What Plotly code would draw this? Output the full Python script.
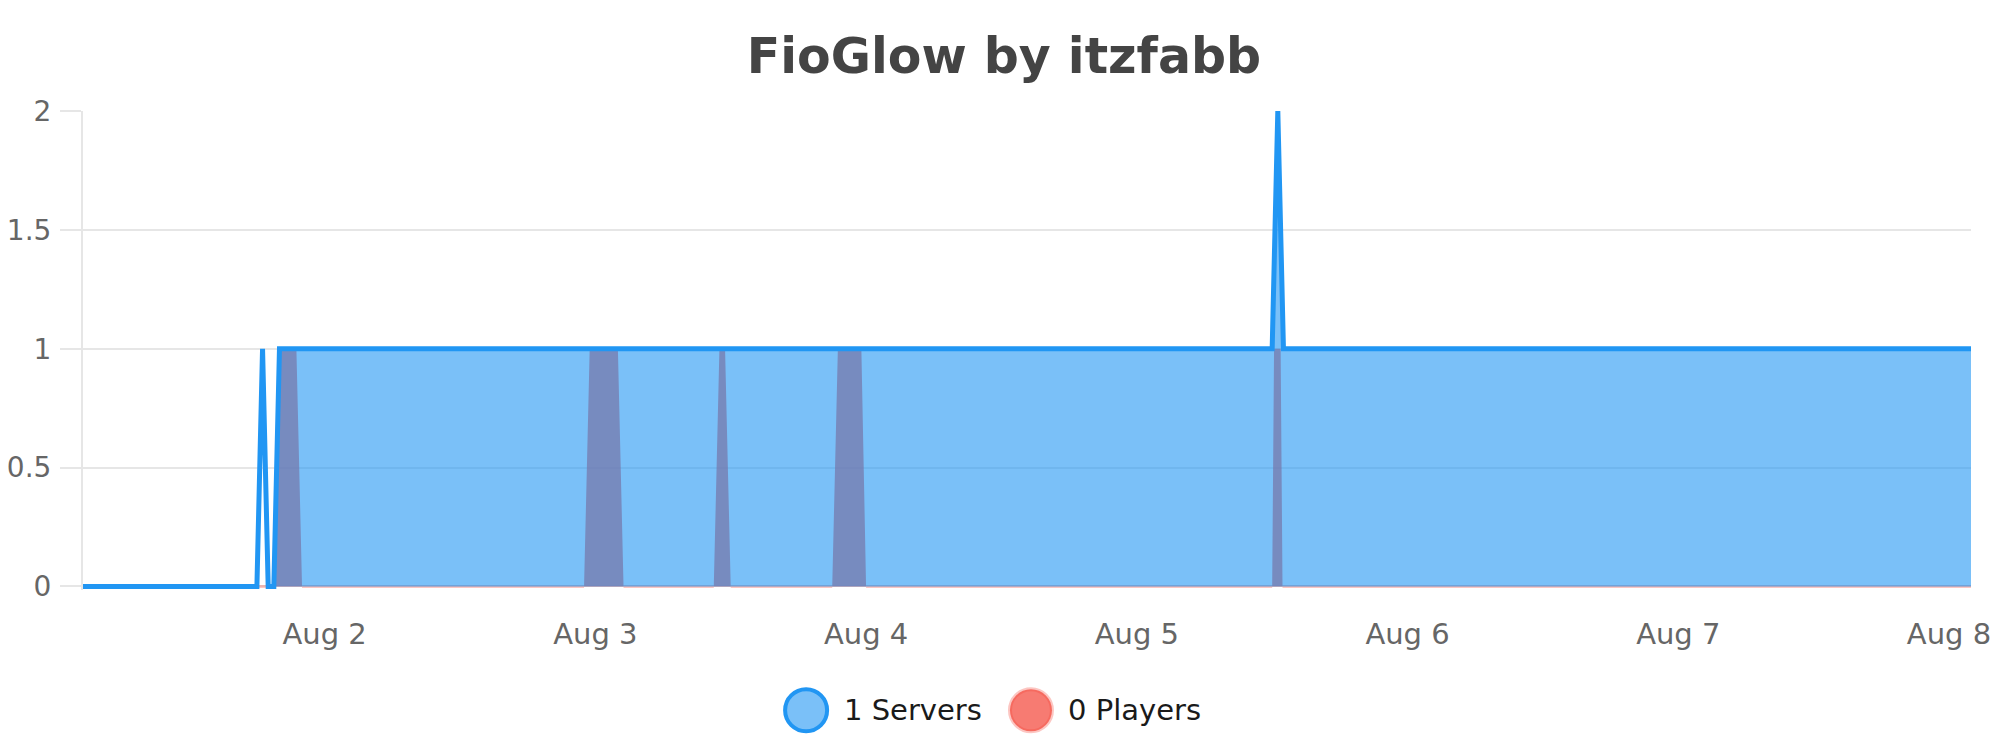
import plotly.graph_objects as go

## data
t_start = "2024-08-01 02:35"
t_end = "2024-08-08 01:57"

servers_time = [t_start, "2024-08-01 18:00", "2024-08-01 18:30", "2024-08-01 19:00",
                "2024-08-01 19:30", "2024-08-01 20:00", "2024-08-05 12:00",
                "2024-08-05 12:30", "2024-08-05 13:00", t_end]
servers = [0, 0, 1, 0, 0, 1, 1, 2, 1, 1]
servers_fill_from = 4  # area under the servers line only starts here

players_time = [t_start, "2024-08-01 19:30", "2024-08-01 20:00", "2024-08-01 22:00",
                "2024-08-02 23:00", "2024-08-03 01:00", "2024-08-03 02:30",
                "2024-08-03 10:30", "2024-08-03 11:15", "2024-08-03 12:00",
                "2024-08-03 21:00", "2024-08-03 22:30", "2024-08-04 00:00",
                "2024-08-05 12:00", "2024-08-05 12:30", "2024-08-05 12:55", t_end]
players = [0, 0, None, 0, 0, None, 0, 0, None, 0, 0, None, 0, 0, None, 0, 0]

# red area showing through where the players data has gaps
gap_time = ["2024-08-01 19:30", "2024-08-01 20:00", "2024-08-01 21:30", "2024-08-01 22:00",
            "2024-08-02 23:00", "2024-08-02 23:30", "2024-08-03 02:00", "2024-08-03 02:30",
            "2024-08-03 10:30", "2024-08-03 11:00", "2024-08-03 11:30", "2024-08-03 12:00",
            "2024-08-03 21:00", "2024-08-03 21:30", "2024-08-03 23:35", "2024-08-04 00:00",
            "2024-08-05 12:00", "2024-08-05 12:10", "2024-08-05 12:45", "2024-08-05 12:55"]
gap_fill = [0, 1, 1, 0,
            0, 1, 1, 0,
            0, 1, 1, 0,
            0, 1, 1, 0,
            0, 1, 1, 0]

title = "FioGlow by itzfabb"
font = "DejaVu Sans"
blue = "#2196F3"
blue_fill = "rgba(33,150,243,0.6)"
red_fill = "rgba(244,67,54,0.7)"
red_line = "rgba(244,67,54,0.3)"
grid = "#e6e6e6"

### plotting
fig = go.Figure()

fig.add_trace(go.Scatter(x=gap_time, y=gap_fill, mode='lines', fill='tozeroy',
                         fillcolor=red_fill, line=dict(width=0), hoverinfo='skip'))
fig.add_trace(go.Scatter(x=players_time, y=players, mode='lines',
                         line=dict(color=red_line, width=3), connectgaps=False))
fig.add_trace(go.Scatter(x=servers_time[servers_fill_from:], y=servers[servers_fill_from:],
                         mode='lines', fill='tozeroy', fillcolor=blue_fill,
                         line=dict(width=0), hoverinfo='skip'))
fig.add_trace(go.Scatter(x=servers_time, y=servers, mode='lines',
                         line=dict(color=blue, width=5, shape='linear')))

# legend drawn by hand (round swatches, larger than plotly's legend allows)
legend_y = -0.251
items = [(0.383, 0.402, f"{servers[-1]} Servers", blue_fill, blue),
         (0.5021, 0.5207, f"{players[-1]} Players", red_fill, red_line)]
for cx, tx, label, fc, lc in items:
    fig.add_shape(type='circle', xref='paper', yref='paper',
                  xsizemode='pixel', ysizemode='pixel',
                  xanchor=cx, yanchor=legend_y, x0=-21, x1=21, y0=-21, y1=21,
                  fillcolor=fc, line=dict(color=lc, width=4))
    fig.add_annotation(x=tx, y=legend_y, xref='paper', yref='paper', text=label,
                       showarrow=False, xanchor='left', yanchor='middle',
                       font=dict(family=font, size=29, color='#1a1a1a'))

# page body has an 8px margin, so the figure is 8px smaller and margins shifted
fig.update_layout(
    width=1992, height=742,
    margin=dict(l=75, r=29, t=103, b=160, autoexpand=False),
    paper_bgcolor='white', plot_bgcolor='white',
    showlegend=False,
    title=dict(text=title, x=0.5, xanchor='center', y=0.936, yanchor='middle',
               font=dict(family=font, size=49, color='#444444', weight='bold')),
    xaxis=dict(type='date', range=[t_start, t_end], showgrid=False, zeroline=False,
               showline=False, dtick=86400000, tick0="2024-08-02",
               tickformat="%b %-d", ticks='outside', ticklen=18,
               tickcolor='rgba(0,0,0,0)', automargin=False,
               tickfont=dict(family=font, size=29, color='#666666')),
    yaxis=dict(range=[-0.015, 2], dtick=0.5, tick0=0, showgrid=True,
               gridcolor=grid, gridwidth=2, zeroline=False,
               showline=True, linecolor=grid, linewidth=2,
               ticks='outside', ticklen=21, tickwidth=2, tickcolor=grid,
               ticklabelstandoff=3, automargin=False,
               tickfont=dict(family=font, size=28, color='#666666')),
)

### saving figure
fig.write_html("out.html")
